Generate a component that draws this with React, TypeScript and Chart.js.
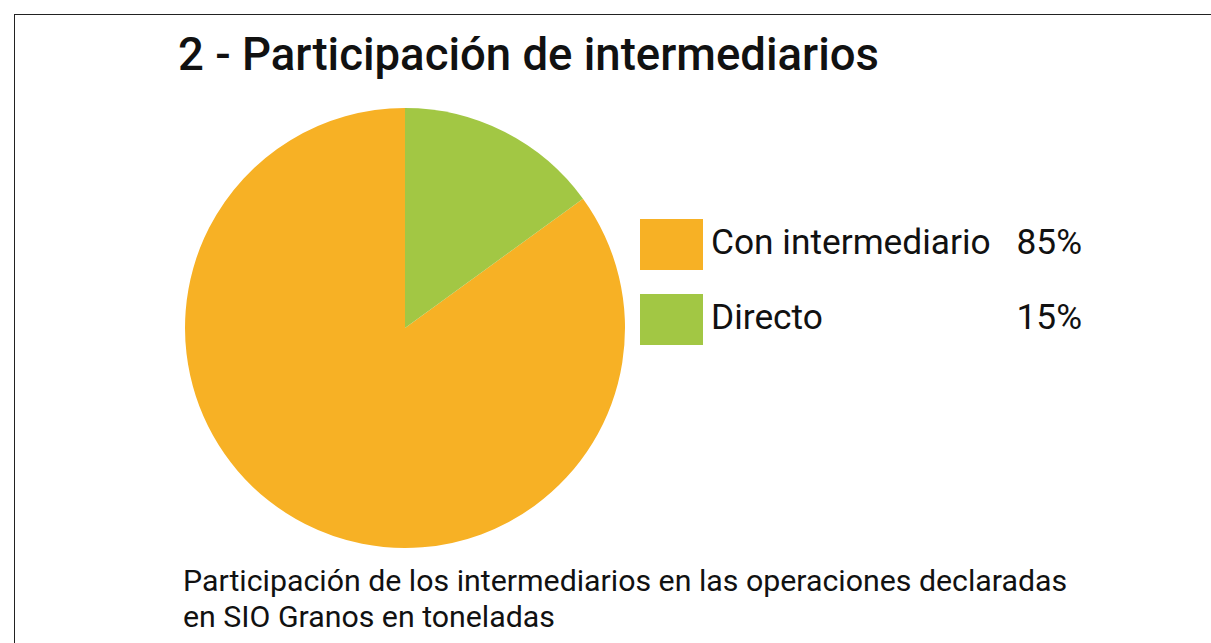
import React, { useEffect, useRef } from "react";
import { Chart, registerables } from "chart.js";

Chart.register(...registerables);

const TITLE = "2 - Participación de intermediarios";
const CATEGORIES = ["Con intermediario", "Directo"];
const VALUES = [85, 15];
const VALUE_LABELS = ["85%", "15%"];
const COLORS = ["#F7B125", "#A2C744"];
const CAPTION_LINES = [
  "Participación de los intermediarios en las operaciones declaradas",
  "en SIO Granos en toneladas",
];

const FONT = "Roboto, 'Noto Sans', sans-serif";

export default function App() {
  const ref = useRef<HTMLCanvasElement | null>(null);

  useEffect(() => {
    if (!ref.current) return;
    const chart = new Chart(ref.current, {
      type: "pie",
      data: {
        labels: CATEGORIES,
        datasets: [
          {
            data: VALUES,
            backgroundColor: COLORS,
            borderWidth: 0,
            hoverOffset: 0,
          },
        ],
      },
      options: {
        animation: false,
        responsive: false,
        rotation: 54,
        layout: { padding: 10 },
        plugins: {
          legend: { display: false },
          tooltip: { enabled: false },
          title: { display: false },
        },
      },
    });
    return () => chart.destroy();
  }, []);

  return (
    <div
      style={{
        position: "absolute",
        left: 0,
        top: 0,
        width: 1211,
        height: 643,
        overflow: "hidden",
        background: "#fff",
        fontFamily: FONT,
        color: "#111",
      }}
    >
      <div
        style={{
          position: "absolute",
          left: 14,
          top: 14,
          width: 1300,
          height: 800,
          borderTop: "1px solid #222",
          borderLeft: "1px solid #222",
        }}
      />
      <div
        style={{
          position: "absolute",
          left: 178,
          top: 32,
          fontSize: 45.5,
          fontWeight: 500,
          lineHeight: 1,
          whiteSpace: "nowrap",
        }}
      >
        {TITLE}
      </div>
      <canvas
        ref={ref}
        width={460}
        height={460}
        style={{ position: "absolute", left: 175, top: 98, width: 460, height: 460 }}
      />
      {CATEGORIES.map((c, i) => (
        <React.Fragment key={c}>
          <div
            style={{
              position: "absolute",
              left: 640,
              top: 219 + i * 75,
              width: 63,
              height: 51,
              background: COLORS[i],
            }}
          />
          <div
            style={{
              position: "absolute",
              left: 711,
              top: 225 + i * 75,
              fontSize: 35.3,
              lineHeight: 1,
              whiteSpace: "nowrap",
            }}
          >
            {c}
          </div>
          <div
            style={{
              position: "absolute",
              left: 982,
              width: 100,
              textAlign: "right",
              top: 225 + i * 75,
              fontSize: 35.3,
              lineHeight: 1,
              whiteSpace: "nowrap",
            }}
          >
            {VALUE_LABELS[i]}
          </div>
        </React.Fragment>
      ))}
      <div
        style={{
          position: "absolute",
          left: 183,
          top: 563,
          fontSize: 30.3,
          lineHeight: "36px",
          whiteSpace: "nowrap",
        }}
      >
        {CAPTION_LINES.map((l) => (
          <div key={l}>{l}</div>
        ))}
      </div>
    </div>
  );
}
